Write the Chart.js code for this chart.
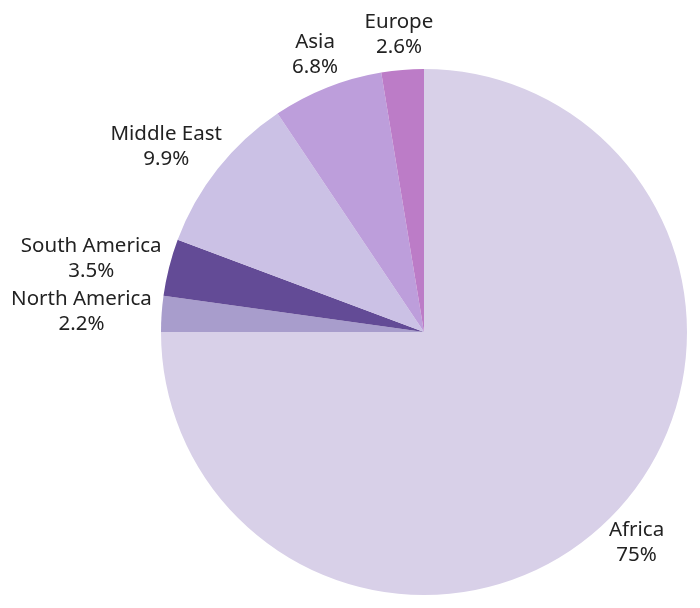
<!DOCTYPE html>
<html>
<head>
<meta charset="utf-8">
<script src="https://cdn.jsdelivr.net/npm/chart.js@4/dist/chart.umd.min.js"></script>
<style>
  html, body { margin: 0; padding: 0; background: #ffffff; }
  #wrap { width: 700px; height: 608px; }
</style>
</head>
<body>
<div id="wrap"><canvas id="c" width="700" height="608"></canvas></div>
<script>
const regions = ["Africa", "North America", "South America", "Middle East", "Asia", "Europe"];
const shares = [75, 2.2, 3.5, 9.9, 6.8, 2.6];
const shareLabels = ["75%", "2.2%", "3.5%", "9.9%", "6.8%", "2.6%"];
const sliceColors = ["#d8d0e8", "#a89dcc", "#634b96", "#cbc1e5", "#bd9edb", "#bc7cc7"];

const FONT = '20.5px "Noto Sans", "Open Sans", sans-serif';
const LINE_H = 25;

const outsideLabels = {
  id: 'outsideLabels',
  afterDatasetsDraw(chart) {
    const ctx = chart.ctx;
    const meta = chart.getDatasetMeta(0);
    ctx.save();
    ctx.font = FONT;
    ctx.fillStyle = '#222222';
    ctx.textAlign = 'center';
    ctx.textBaseline = 'middle';
    meta.data.forEach((arc, i) => {
      const p = arc.getProps(['x', 'y', 'startAngle', 'endAngle', 'outerRadius'], true);
      const mid = (p.startAngle + p.endAngle) / 2;
      const c = Math.cos(mid), s = Math.sin(mid);
      const lines = [regions[i], shareLabels[i]];
      const w = Math.max(...lines.map(t => ctx.measureText(t).width));
      const h = lines.length * LINE_H;
      const r = p.outerRadius + 10;
      const cx = p.x + r * c + c * w / 2;
      const cy = p.y + r * s + s * h / 2;
      lines.forEach((t, k) => {
        ctx.fillText(t, cx, cy - h / 2 + LINE_H / 2 + k * LINE_H);
      });
    });
    ctx.restore();
  }
};

new Chart(document.getElementById('c'), {
  type: 'pie',
  data: {
    labels: regions,
    datasets: [{
      data: shares,
      backgroundColor: sliceColors,
      borderWidth: 0
    }]
  },
  options: {
    responsive: false,
    animation: false,
    layout: { padding: { left: 148, right: 0, top: 69, bottom: 13 } },
    plugins: {
      legend: { display: false },
      tooltip: { enabled: false }
    }
  },
  plugins: [outsideLabels]
});
</script>
</body>
</html>
